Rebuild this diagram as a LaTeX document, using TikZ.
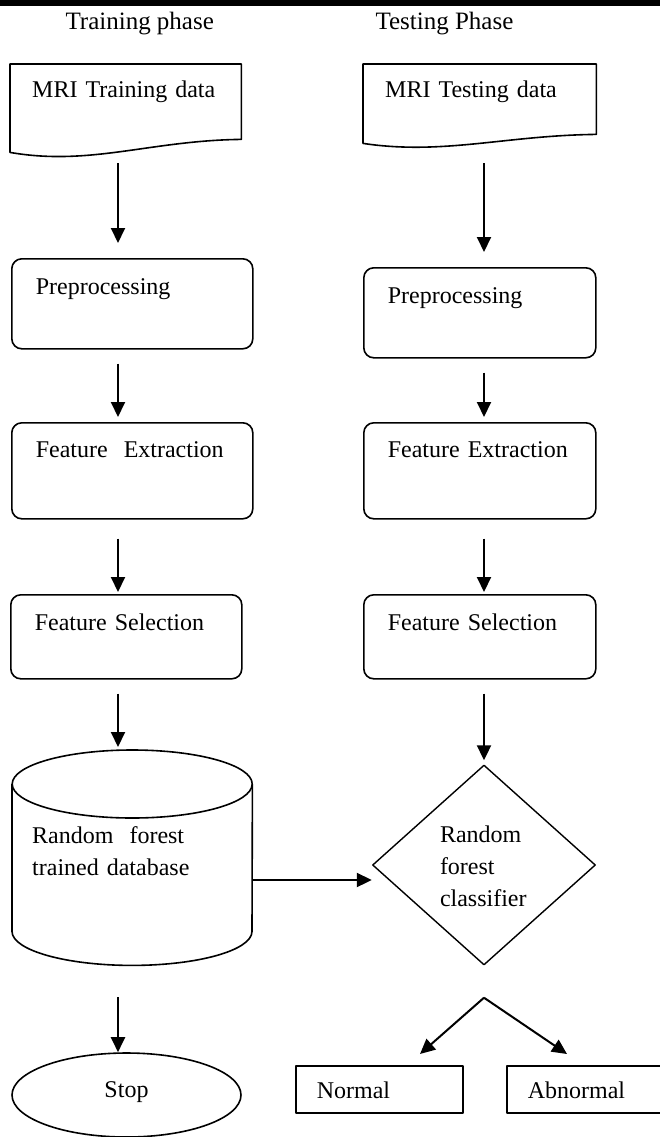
\documentclass[tikz,border=0pt]{standalone}
\usepackage{fontspec}
\setmainfont{Liberation Serif}
\usetikzlibrary{positioning, arrows.meta, shapes.geometric}

\begin{document}
\begin{tikzpicture}[x=1pt, y=1pt, line join=round,
  txt/.style={font=\fontsize{24}{32}\selectfont},
  head/.style={font=\fontsize{25}{30}\selectfont, anchor=base west},
  arr/.style={-{Triangle[length=15pt, width=14pt]}, line width=2pt},
  docbox/.style={txt, anchor=north west, inner xsep=22pt, inner ysep=0pt, align=left, text height=17pt},
  docline/.style={line width=1.6pt},
  procbox/.style={txt, draw, line width=1.6pt, rounded corners=10pt, anchor=north west,
    inner xsep=24pt, inner ysep=0pt, align=left, text height=17pt},
  dbbox/.style={txt, anchor=north west, minimum width=240pt, minimum height=215pt, inner xsep=20pt,
    inner ysep=0pt, text width=200pt, align=left, text height=17pt, text depth=46pt},
  decision/.style={txt, draw, line width=1.4pt, diamond, minimum width=223pt, minimum height=200pt,
    inner sep=0pt, text width=88pt, align=left, text height=17pt, text depth=63pt},
  term/.style={txt, draw, line width=1.6pt, ellipse, minimum width=229pt, minimum height=84pt,
    inner sep=0pt, text height=17pt, text depth=13pt},
  outbox/.style={txt, draw, line width=1.6pt, anchor=north west, inner xsep=21pt, inner ysep=0pt,
    minimum height=47pt, align=left, text height=19pt, text depth=0pt}]
  \useasboundingbox (0,0) rectangle (660,-1137);
  \fill (0,0) rectangle (660,-6);

  % titles of the two columns
  \node[head] (trh) at (62,-30) {Training phase};
  \node[head] (tsh) at (372,-30) {Testing Phase};
  \coordinate (colL) at (118,0);
  \coordinate (colR) at (484,0);

  % input data (document shapes)
  \node[docbox, minimum width=231pt, minimum height=75pt, text width=187pt, text depth=26pt] (trd) at (10,-64) {MRI Training data};
  \draw[docline] (trd.north west) -- (trd.north east) -- (trd.south east)
    .. controls +(-91,-1) and +(80,-14) .. ([yshift=-13pt]trd.south west) -- cycle;
  \node[docbox, minimum width=233pt, minimum height=70pt, text width=189pt, text depth=21pt] (tsd) at (363,-64) {MRI Testing data};
  \draw[docline] (tsd.north west) -- (tsd.north east) -- (tsd.south east)
    .. controls +(-91,-1) and +(80,-12) .. ([yshift=-9pt]tsd.south west) -- cycle;

  % processing steps
  \node[procbox, minimum width=241pt, text width=193pt, minimum height=90pt, text depth=35pt] (pre1) at (11,-258) {Preprocessing};
  \node[procbox, minimum width=232pt, text width=184pt, minimum height=90pt, text depth=35pt] (pre2) at (363,-267) {Preprocessing};
  \node[procbox, minimum width=241pt, text width=193pt, minimum height=96pt, text depth=43pt] (fe1) at (11,-422) {Feature~~Extraction};
  \node[procbox, minimum width=232pt, text width=184pt, minimum height=96pt, text depth=43pt] (fe2) at (363,-422) {Feature Extraction};
  \node[procbox, minimum width=231pt, text width=183pt, minimum height=84pt, text depth=29pt] (fs1) at (10,-594) {Feature Selection};
  \node[procbox, minimum width=232pt, text width=184pt, minimum height=84pt, text depth=29pt] (fs2) at (363,-594) {Feature Selection};

  % database (cylinder drawn round the node)
  \node[dbbox] (db) at (12,-750) {Random~~forest\\trained database};
  \draw[docline] ([yshift=-34pt]db.north) ellipse [x radius=120pt, y radius=34pt];
  \draw[docline] ([yshift=-34pt]db.north west) -- ([yshift=34pt]db.south west)
    arc[start angle=180, end angle=360, x radius=120pt, y radius=34pt] -- ([yshift=-34pt]db.north east);

  % classifier and outcomes
  \node[decision] (rfc) at (484,-865) {Random\\forest\\classifier};
  \node[term] (stop) at (126.5,-1095) {Stop};
  \node[outbox, minimum width=167pt, text width=125pt] (nrm) at (295,-1065) {Normal};
  \node[outbox, minimum width=158pt, text width=116pt] (abn) at (506,-1065) {Abnormal};

  % vertical arrows (from/to/column/gap at start/gap at end)
  \foreach \a/\b/\c/\s/\e in {trd/pre1/colL/24/15, tsd/pre2/colR/29/15, pre1/fe1/colL/14/5, pre2/fe2/colR/14/5,
      fe1/fs1/colL/19/2, fe2/fs2/colR/19/2, fs1/db/colL/14/3, fs2/rfc/colR/14/4, db/stop/colL/32/0}{
    \draw[arr, shorten <=\s pt, shorten >=\e pt] (\a.south -| \c) -- (\b.north -| \c);
  }
  \coordinate (hrow) at (0,-880);
  \draw[arr] (db.east |- hrow) -- (rfc.west |- hrow);
  % split into the two results
  \coordinate (split) at ([yshift=-32pt]rfc.south);
  \coordinate (nrmtip) at (420,-1054);
  \coordinate (abntip) at (567,-1054);
  \draw[arr] (split) -- (nrmtip);
  \draw[arr] (split) -- (abntip);
\end{tikzpicture}
\end{document}
